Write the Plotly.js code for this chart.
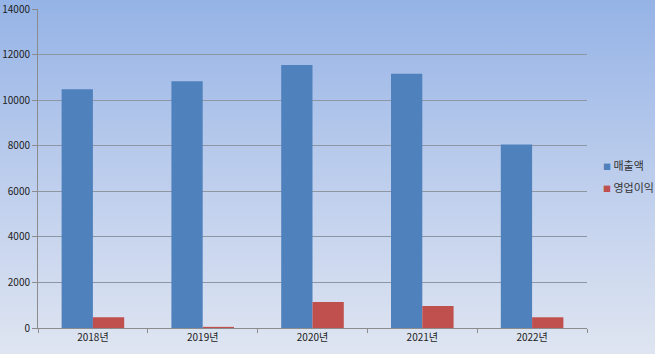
<!DOCTYPE html>
<html><head><meta charset="utf-8">
<script src="https://cdn.plot.ly/plotly-3.0.1.min.js"></script>
<style>
html,body{margin:0;padding:0;}
#chart{width:655px;height:354px;background:linear-gradient(to bottom,#95b3e6 0%,#b9cbec 45%,#dfe5f1 100%);}
</style></head>
<body><div id="chart"></div>
<script>
const years = ['2018년','2019년','2020년','2021년','2022년'];
const sales = [10480, 10830, 11540, 11160, 8050];
const profit = [470, 50, 1140, 965, 470];
const seriesNames = ['매출액','영업이익'];
const seriesColors = ['#4f81bd','#c0504d'];
const yTicks = [0,2000,4000,6000,8000,10000,12000,14000];

const font = {family:'"Noto Sans CJK KR", "Noto Sans", sans-serif', size:10, color:'#222'};
const data = [
  {type:'bar', x:years, y:sales, name:seriesNames[0], marker:{color:seriesColors[0], line:{width:0}}},
  {type:'bar', x:years, y:profit, name:seriesNames[1], marker:{color:seriesColors[1], line:{width:0}}}
];
const legendAnn = seriesNames.map((n,i)=>({
  xref:'paper', yref:'paper', x:1.025, y:0.512 - i*0.069, xanchor:'left', yanchor:'middle', showarrow:false,
  text:'<span style="color:'+seriesColors[i]+';font-size:8px">■</span> '+n,
  font:{family:font.family, size:11, color:'#333'}
}));
const layout = {
  width:655, height:354,
  paper_bgcolor:'rgba(0,0,0,0)', plot_bgcolor:'rgba(0,0,0,0)',
  margin:{l:38, r:68, t:9, b:26, autoexpand:false},
  barmode:'group', bargap:0.43, bargroupgap:0,
  font:font,
  showlegend:false,
  annotations:legendAnn,
  xaxis:{type:'category', showgrid:false, showline:true, linecolor:'#8c8c8c', linewidth:1,
         ticks:'outside', tickson:'boundaries', ticklen:4, tickcolor:'#8c8c8c', tickfont:font, fixedrange:true},
  yaxis:{range:[0,14000], tickvals:yTicks, ticktext:yTicks.map(String), showgrid:true, gridcolor:'#8f96a3', gridwidth:1,
         showline:true, linecolor:'#8c8c8c', ticks:'outside', ticklen:5, tickcolor:'#8c8c8c', tickfont:font, zeroline:false, fixedrange:true}
};
Plotly.newPlot('chart', data, layout, {displayModeBar:false, staticPlot:true});
</script></body></html>
